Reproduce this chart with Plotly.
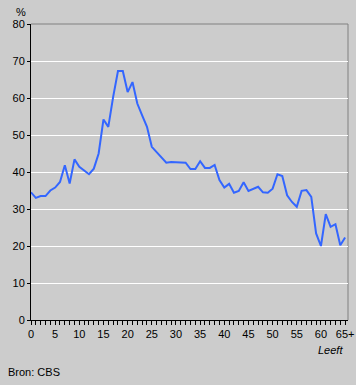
import plotly.graph_objects as go

ages = list(range(0, 66))
values = [34.5, 33.0, 33.5, 33.5, 35.0, 35.8, 37.3, 41.8, 36.9, 43.4,
          41.4, 40.5, 39.4, 40.9, 45.0, 54.2, 52.2, 60.3, 67.3, 67.3,
          61.6, 64.3, 58.5, 55.3, 52.2, 46.8, 45.4, 44.1, 42.5, 42.7,
          42.6, 42.5, 42.5, 40.8, 40.8, 42.9, 41.1, 41.1, 41.9, 37.8,
          35.8, 36.8, 34.4, 34.9, 37.2, 34.9, 35.5, 36.0, 34.5, 34.4,
          35.5, 39.4, 38.9, 33.7, 31.9, 30.6, 34.9, 35.1, 33.3, 23.4,
          20.0, 28.6, 25.2, 25.9, 20.2, 22.3]
x_tickvals = [0, 5, 10, 15, 20, 25, 30, 35, 40, 45, 50, 55, 60, 65]
x_ticktext = ["0", "5", "10", "15", "20", "25", "30", "35", "40", "45", "50", "55", "60", "65+"]
y_tickvals = [0, 10, 20, 30, 40, 50, 60, 70, 80]

BG = "#CCCCCC"
FONT = "Liberation Sans, Arial, sans-serif"

fig = go.Figure()
fig.add_trace(go.Scatter(x=ages, y=values, mode="lines",
                         line=dict(color="#3366FF", width=2), hoverinfo="skip"))

fig.update_layout(
    width=356, height=385,
    margin=dict(l=31, r=8, t=24, b=65, autoexpand=False),
    paper_bgcolor=BG, plot_bgcolor=BG,
    showlegend=False,
    font=dict(family=FONT, size=11, color="#000000"),
    xaxis=dict(range=[0, 65.6], tickvals=x_tickvals, ticktext=x_ticktext,
               automargin=False,
               showgrid=False, zeroline=False, showline=True,
               linecolor="#000000", linewidth=1,
               ticks="outside", ticklen=4, tickcolor="#000000",
               minor=dict(dtick=1, tick0=0, ticks="outside", ticklen=4, tickcolor="#000000"),
               tickfont=dict(family=FONT, size=11, color="#000000")),
    yaxis=dict(range=[0, 80], tickvals=y_tickvals, showgrid=True,
               automargin=False,
               gridcolor="#FFFFFF", gridwidth=1, zeroline=False,
               showline=True, linecolor="#000000", linewidth=1,
               ticks="outside", ticklen=3, tickcolor="#000000",
               tickfont=dict(family=FONT, size=11, color="#000000")),
    shapes=[
        dict(type="line", xref="paper", yref="paper", x0=0, x1=1, y0=1, y1=1,
             line=dict(color="#808080", width=1), layer="between"),
        dict(type="line", xref="paper", yref="paper", x0=1, x1=1, y0=0, y1=1,
             line=dict(color="#808080", width=1), layer="between"),
    ],
    annotations=[
        dict(text="%", xref="paper", yref="paper", x=-0.0315, y=1.040, xanchor="center",
             yanchor="middle", showarrow=False, font=dict(size=11, family=FONT)),
        dict(text="<i>Leeft</i>", xref="paper", yref="paper", x=0.9905, y=-0.101,
             xanchor="right", yanchor="middle", showarrow=False, font=dict(size=11, family=FONT)),
        dict(text="Bron: CBS", xref="paper", yref="paper", x=-0.0789, y=-0.1757,
             xanchor="left", yanchor="middle", showarrow=False, font=dict(size=11, family=FONT)),
    ],
)

fig.write_html("out.html", config={"displayModeBar": False},
               post_script="document.body.style.margin='0';document.body.style.background='#CCCCCC';")
